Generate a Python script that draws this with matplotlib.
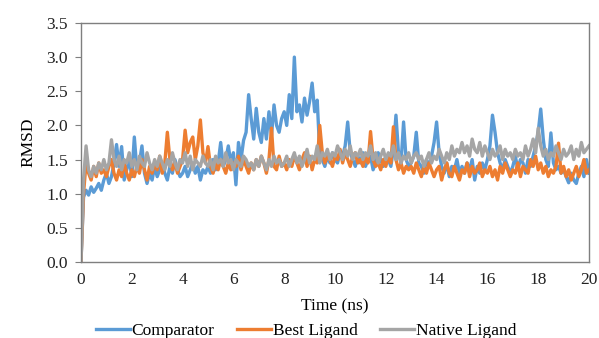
import matplotlib
matplotlib.use('Agg')
import matplotlib.pyplot as plt
import numpy as np

plt.rcParams['font.family'] = ['Liberation Serif', 'DejaVu Serif']

# RMSD traces sampled every 0.1 ns (0 .. 20 ns)
time_ns = np.round(np.arange(0, 20.01, 0.1), 1)

comparator = [
    0.0, 0.95, 1.05, 0.98, 1.1, 1.02, 1.08, 1.15, 1.05, 1.2,
    1.3, 1.15, 1.25, 1.45, 1.72, 1.4, 1.69, 1.2, 1.35, 1.5,
    1.25, 1.83, 1.35, 1.45, 1.7, 1.3, 1.15, 1.3, 1.2, 1.4,
    1.25, 1.35, 1.45, 1.3, 1.2, 1.4, 1.3, 1.5, 1.35, 1.25,
    1.3, 1.4, 1.25, 1.35, 1.45, 1.3, 1.4, 1.2, 1.35, 1.3,
    1.4, 1.3, 1.5, 1.35, 1.45, 1.75, 1.4, 1.5, 1.7, 1.45,
    1.6, 1.13, 1.75, 1.5, 1.78, 1.9, 2.45, 2.1, 1.8, 2.25,
    1.9, 1.75, 2.1, 1.8, 2.2, 1.85, 2.3, 2.0, 1.9, 2.1,
    2.2, 2.0, 2.45, 2.1, 3.0, 2.2, 2.3, 2.05, 2.4, 2.15,
    2.35, 2.62, 2.2, 2.37, 1.6, 1.5, 1.4, 1.55, 1.45, 1.6,
    1.5, 1.45, 1.6, 1.55, 1.7, 2.05, 1.6, 1.5, 1.4, 1.55,
    1.45, 1.6, 1.4, 1.5, 1.55, 1.35, 1.45, 1.6, 1.5, 1.4,
    1.55, 1.5, 1.4, 1.65, 2.15, 1.6, 1.45, 2.05, 1.5, 1.4,
    1.45, 1.55, 1.9, 1.45, 1.4, 1.3, 1.5, 1.4, 1.55, 1.75,
    2.05, 1.6, 1.4, 1.3, 1.45, 1.25, 1.4, 1.35, 1.5, 1.3,
    1.4, 1.3, 1.45, 1.35, 1.5, 1.2, 1.4, 1.3, 1.45, 1.35,
    1.5, 1.7, 2.15, 1.9, 1.6, 1.45, 1.35, 1.5, 1.4, 1.3,
    1.4, 1.55, 1.35, 1.5, 1.45, 1.3, 1.5, 1.4, 1.55, 1.7,
    1.9, 2.24, 1.8, 1.5, 1.4, 1.89, 1.45, 1.35, 1.4, 1.3,
    1.35, 1.25, 1.16, 1.3, 1.2, 1.15, 1.3, 1.4, 1.25, 1.5,
    1.3,
]

best_ligand = [
    0.0, 1.0, 1.45, 1.3, 1.2, 1.4, 1.25, 1.45, 1.3, 1.35,
    1.25, 1.4, 1.5, 1.3, 1.2, 1.35, 1.25, 1.45, 1.3, 1.2,
    1.35, 1.25, 1.4, 1.3, 1.5, 1.35, 1.2, 1.4, 1.3, 1.45,
    1.35, 1.55, 1.3, 1.45, 1.9, 1.5, 1.35, 1.45, 1.3, 1.4,
    1.5, 1.93, 1.6, 1.75, 1.83, 1.5, 1.7, 2.08, 1.6, 1.45,
    1.69, 1.4, 1.3, 1.45, 1.35, 1.5, 1.4, 1.3, 1.45, 1.35,
    1.45, 1.4, 1.55, 1.35, 1.5, 1.4, 1.3, 1.45, 1.35, 1.5,
    1.4, 1.55, 1.45, 1.3, 1.5, 1.96, 1.4, 1.35, 1.55, 1.4,
    1.45, 1.35, 1.5, 1.4, 1.55, 1.45, 1.35, 1.5, 1.6, 1.4,
    1.55, 1.35, 1.5, 1.45, 2.0, 1.6, 1.45, 1.55, 1.5, 1.4,
    1.55, 1.5, 1.65, 1.45, 1.6, 1.5, 1.4, 1.55, 1.6, 1.45,
    1.5, 1.4, 1.55, 1.45, 1.91, 1.5, 1.4, 1.45, 1.35, 1.5,
    1.4, 1.55, 1.45, 1.98, 1.5, 1.35, 1.45, 1.3, 1.4, 1.35,
    1.4, 1.3, 1.45, 1.35, 1.25, 1.4, 1.3, 1.45, 1.35, 1.25,
    1.35, 1.4, 1.2, 1.35, 1.45, 1.3, 1.25, 1.4, 1.3, 1.2,
    1.35, 1.3, 1.45, 1.25, 1.4, 1.3, 1.35, 1.45, 1.25, 1.35,
    1.3, 1.4, 1.25, 1.35, 1.2, 1.4, 1.3, 1.45, 1.35, 1.25,
    1.35, 1.3, 1.45, 1.25, 1.4, 1.35, 1.3, 1.5, 1.4, 1.55,
    1.35, 1.45, 1.3, 1.4, 1.25, 1.35, 1.3, 1.4, 1.74, 1.3,
    1.4, 1.25, 1.35, 1.2, 1.3, 1.4, 1.25, 1.35, 1.5, 1.3,
    1.35,
]

native_ligand = [
    0.0, 1.2, 1.7, 1.35, 1.25, 1.4, 1.3, 1.45, 1.35, 1.5,
    1.35, 1.45, 1.79, 1.5, 1.4, 1.55, 1.35, 1.5, 1.45, 1.6,
    1.4, 1.5, 1.35, 1.55, 1.45, 1.4, 1.6, 1.45, 1.35, 1.5,
    1.4, 1.55, 1.45, 1.35, 1.5, 1.4, 1.6, 1.45, 1.35, 1.5,
    1.45, 1.6, 1.4, 1.55, 1.35, 1.5, 1.45, 1.4, 1.55, 1.45,
    1.4, 1.5, 1.35, 1.55, 1.45, 1.5, 1.4, 1.6, 1.45, 1.5,
    1.35, 1.5, 1.45, 1.4, 1.55, 1.5, 1.4, 1.45, 1.35, 1.5,
    1.4, 1.55, 1.45, 1.35, 1.5, 1.4, 1.55, 1.45, 1.5, 1.4,
    1.45, 1.55, 1.4, 1.5, 1.6, 1.45, 1.55, 1.4, 1.5, 1.65,
    1.45, 1.55, 1.5, 1.7, 1.45, 1.6, 1.55, 1.65, 1.5, 1.6,
    1.55, 1.7, 1.6, 1.5, 1.65, 1.55, 1.7, 1.5, 1.6, 1.55,
    1.65, 1.5, 1.6, 1.55, 1.7, 1.5, 1.6, 1.45, 1.55, 1.65,
    1.5, 1.6, 1.55, 1.7, 1.5, 1.6, 1.45, 1.55, 1.5, 1.6,
    1.45, 1.55, 1.6, 1.5, 1.55, 1.4, 1.5, 1.6, 1.45, 1.55,
    1.5, 1.65, 1.55, 1.45, 1.6, 1.5, 1.7, 1.55, 1.65, 1.6,
    1.75, 1.6, 1.7, 1.55, 1.8, 1.65, 1.6, 1.75, 1.55, 1.7,
    1.6, 1.5, 1.65, 1.55, 1.6, 1.7, 1.5, 1.65, 1.55, 1.6,
    1.5, 1.65, 1.55, 1.6, 1.5, 1.7, 1.55, 1.65, 1.8, 1.6,
    1.96, 1.7, 1.55, 1.65, 1.5, 1.6, 1.55, 1.7, 1.6, 1.5,
    1.65, 1.55, 1.6, 1.7, 1.5, 1.65, 1.55, 1.75, 1.6, 1.65,
    1.7,
]

series = [
    ('Comparator', comparator, '#5B9BD5'),
    ('Best Ligand', best_ligand, '#ED7D31'),
    ('Native Ligand', native_ligand, '#A5A5A5'),
]

FS = 12.5

fig = plt.figure(figsize=(5.99, 3.38), dpi=100)
ax = fig.add_axes([0.1352, 0.2249, 0.8481, 0.7071])

for name, vals, col in series:
    ax.plot(time_ns, vals, color=col, lw=2.4, label=name, solid_joinstyle='round')

ax.set_xlim(0, 20)
ax.set_ylim(0, 3.5)
ax.set_xticks(np.arange(0, 21, 2))
ax.set_yticks(np.arange(0, 3.51, 0.5))
ax.set_yticklabels([f'{v:.1f}' for v in np.arange(0, 3.51, 0.5)])
ax.tick_params(axis='x', length=0, labelsize=FS, pad=7, labelcolor='#222222')
ax.tick_params(axis='y', length=4.5, width=0.8, labelsize=FS, pad=5,
               color='#7f7f7f', labelcolor='#222222')
for sp in ax.spines.values():
    sp.set_color('#7f7f7f')
    sp.set_linewidth(1.0)

ax.set_xlabel('Time (ns)', fontsize=FS, labelpad=8)
ax.set_ylabel('RMSD', fontsize=FS, labelpad=7)

fig.legend(loc='center', bbox_to_anchor=(0.511, 0.022), ncol=3, frameon=False,
           fontsize=FS, handlelength=1.95, handletextpad=0.1, columnspacing=1.3,
           borderpad=0.0)

fig.savefig('out.png', dpi=100)
